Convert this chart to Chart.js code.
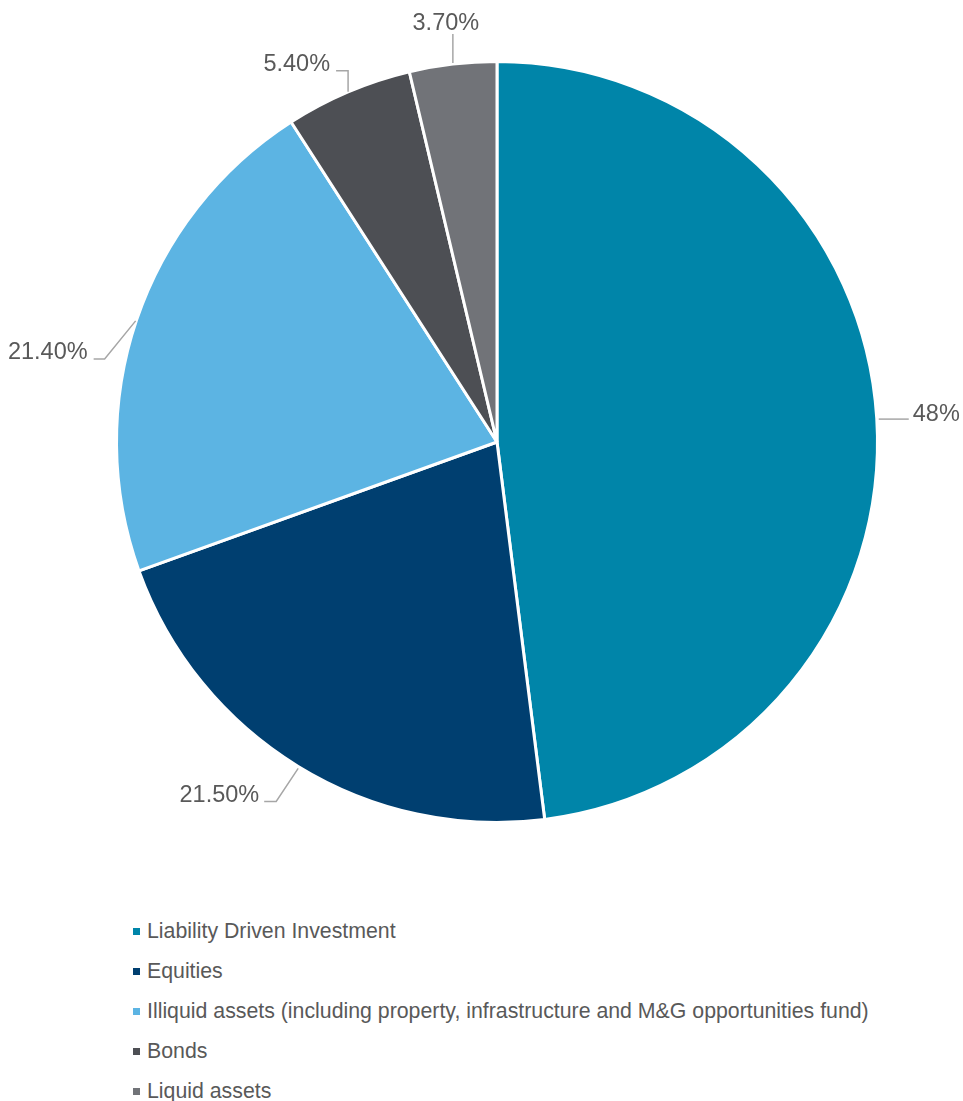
<!DOCTYPE html>
<html>
<head>
<meta charset="utf-8">
<title>Asset allocation</title>
<script src="https://cdn.jsdelivr.net/npm/chart.js@4.4.1/dist/chart.umd.min.js"></script>
<style>
  body { margin: 0; background: #fff; font-family: Arial, "Liberation Sans", Helvetica, sans-serif; }
  #wrap { position: relative; width: 963px; height: 1101px; }
  #chartBox { position: absolute; left: 0; top: 0; width: 963px; height: 880px; }
  #legend { position: absolute; left: 133px; top: 911px; margin: 0; padding: 0; list-style: none; }
  #legend li { height: 40px; line-height: 40px; font-size: 21.3px; color: #595959; white-space: nowrap; }
  #legend .swatch { display: inline-block; width: 7px; height: 7px; margin-right: 7px; vertical-align: middle; position: relative; top: -1px; }
</style>
</head>
<body>
<div id="wrap">
  <div id="chartBox"><canvas id="allocChart"></canvas></div>
  <ul id="legend"></ul>
</div>
<script>
const categories = [
    "Liability Driven Investment",
    "Equities",
    "Illiquid assets (including property, infrastructure and M&G opportunities fund)",
    "Bonds",
    "Liquid assets"
];
const allocation = [48, 21.5, 21.4, 5.4, 3.7];
const sliceColors = ["#0085A9", "#003F70", "#5CB4E3", "#4D4F54", "#717378"];

// leader line path (offsets from the slice's outer midpoint) and where its label sits
const leaders = [
    { path: [[2, 1], [32, 1]], text: [36, 2.6], align: "left" },
    { path: [[0, 2], [-22, 35], [-34, 35]], text: [-39, 36], align: "right" },
    { path: [[-1, 1], [-32, 39], [-43, 39]], text: [-49, 39.3], align: "right" },
    { path: [[0, 0], [0, -21], [-12, -21]], text: [-18, -20.6], align: "right" },
    { path: [[0, -1], [0, -30]], text: [-7, -33.9], align: "center" }
];

function pctText(v) {
    return Number.isInteger(v) ? v + "%" : v.toFixed(2) + "%";
}

const leaderLabels = {
    id: "leaderLabels",
    afterDatasetsDraw(chart) {
        const ctx = chart.ctx;
        const arcs = chart.getDatasetMeta(0).data;
        ctx.save();
        arcs.forEach((arc, i) => {
            const p = arc.getProps(["x", "y", "startAngle", "endAngle", "outerRadius"], true);
            const mid = (p.startAngle + p.endAngle) / 2;
            const ax = p.x + Math.cos(mid) * p.outerRadius;
            const ay = p.y + Math.sin(mid) * p.outerRadius;
            const l = leaders[i];

            ctx.beginPath();
            l.path.forEach((pt, k) => {
                if (k === 0) ctx.moveTo(ax + pt[0], ay + pt[1]);
                else ctx.lineTo(ax + pt[0], ay + pt[1]);
            });
            ctx.strokeStyle = "#A6A6A6";
            ctx.lineWidth = 1.5;
            ctx.stroke();

            ctx.font = '23.5px Arial, "Liberation Sans", Helvetica, sans-serif';
            ctx.fillStyle = "#595959";
            ctx.textAlign = l.align;
            ctx.textBaseline = "alphabetic";
            ctx.fillText(pctText(allocation[i]), ax + l.text[0], ay + l.text[1]);
        });
        ctx.restore();
    }
};

const chart = new Chart(document.getElementById("allocChart"), {
    type: "pie",
    data: {
        labels: categories,
        datasets: [{
            data: allocation,
            backgroundColor: sliceColors,
            borderColor: "#ffffff",
            borderWidth: 3
        }]
    },
    options: {
        responsive: true,
        maintainAspectRatio: false,
        animation: false,
        layout: { padding: { top: 60, bottom: 56, left: 115, right: 84 } },
        plugins: {
            legend: { display: false },
            tooltip: { enabled: false }
        }
    },
    plugins: [leaderLabels]
});

// legend list built from the same categories and colours
const legendEl = document.getElementById("legend");
categories.forEach((name, i) => {
    const li = document.createElement("li");
    li.innerHTML = `<span class="swatch" style="background:${sliceColors[i]}"></span>${name}`;
    legendEl.appendChild(li);
});
</script>
</body>
</html>
